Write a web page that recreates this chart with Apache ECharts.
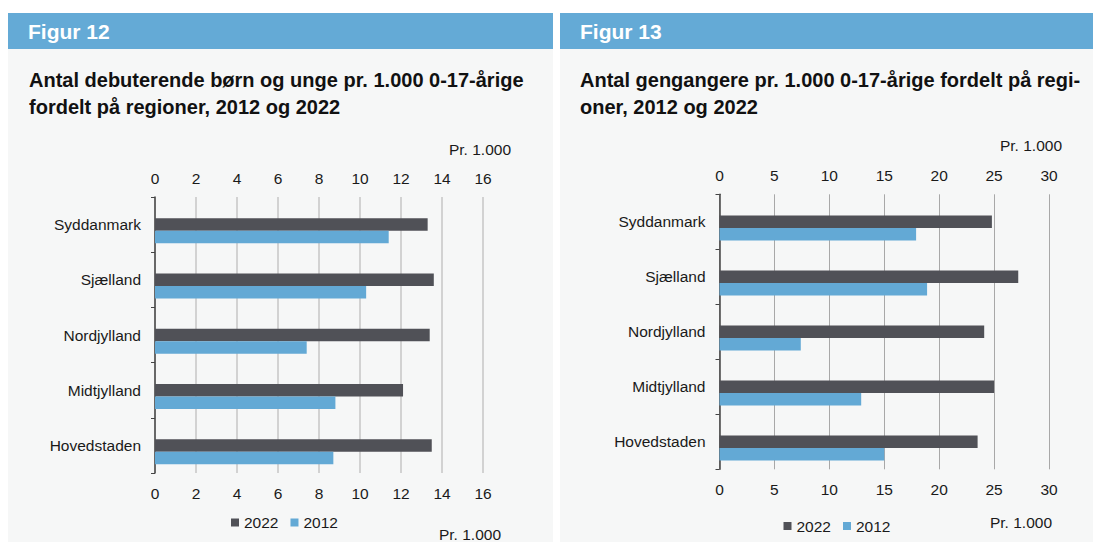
<!DOCTYPE html>
<html>
<head>
<meta charset="utf-8">
<title>Figur 12 og 13</title>
<script src="https://cdn.jsdelivr.net/npm/echarts@6/dist/echarts.min.js"></script>
<style>
  html, body { margin: 0; padding: 0; background: #fff; }
  #chart { width: 1093px; height: 542px; }
</style>
</head>
<body>
<div id="chart"></div>
<script>
// regions, top to bottom
const categories = ['Syddanmark', 'Sjælland', 'Nordjylland', 'Midtjylland', 'Hovedstaden'];

// Figur 12: debuterende pr. 1.000 0-17-årige
const debut2022 = [13.3, 13.6, 13.4, 12.1, 13.5];
const debut2012 = [11.4, 10.3, 7.4, 8.8, 8.7];
const debutTicks = [0, 2, 4, 6, 8, 10, 12, 14, 16];

// Figur 13: gengangere pr. 1.000 0-17-årige
const gentag2022 = [24.8, 27.2, 24.1, 25.0, 23.5];
const gentag2012 = [17.9, 18.9, 7.4, 12.9, 15.0];
const gentagTicks = [0, 5, 10, 15, 20, 25, 30];

const FONT = '"Liberation Sans", Arial, Helvetica, sans-serif';
const DARK = '#505157';
const BLUE = '#63a9d5';
const TXT = '#1a1a1a';

// one panel = grid + bottom/top value axis + category axis
const panels = [
  { grid: { left: 155, top: 197, width: 328, height: 276 }, ticks: debutTicks,
    s2022: debut2022, s2012: debut2012, gridColor: '#c6c6c6', gridWidth: 1.5 },
  { grid: { left: 719.5, top: 194.3, width: 329.5, height: 275 }, ticks: gentagTicks,
    s2022: gentag2022, s2012: gentag2012, gridColor: '#a8a8a8', gridWidth: 1 }
];

const label = { fontSize: 15.5, color: TXT, fontFamily: FONT };

const grids = [], xAxes = [], yAxes = [], series = [];
panels.forEach((p, i) => {
  const min = p.ticks[0], max = p.ticks[p.ticks.length - 1], step = p.ticks[1] - p.ticks[0];
  grids.push(p.grid);
  xAxes.push({
    gridIndex: i, type: 'value', position: 'bottom', min, max, interval: step,
    axisLine: { show: false }, axisTick: { show: false },
    splitLine: { show: true, lineStyle: { color: p.gridColor, width: p.gridWidth } },
    axisLabel: { ...label, margin: 12 }
  });
  xAxes.push({
    gridIndex: i, type: 'value', position: 'top', min, max, interval: step,
    axisLine: { show: false }, axisTick: { show: false }, splitLine: { show: false },
    axisLabel: { ...label, margin: 11 }
  });
  yAxes.push({
    gridIndex: i, type: 'category', data: categories, inverse: true,
    axisLine: { lineStyle: { color: '#444', width: 1.5 } },
    axisTick: { show: true, length: 4, lineStyle: { color: '#444' } },
    axisLabel: { ...label, margin: 14 }
  });
  const common = { type: 'bar', xAxisIndex: i * 2, yAxisIndex: i, barWidth: 12.5, barGap: '0%' };
  // empty slot: the original keeps the 2022 bar on the band centre
  series.push({ ...common, name: 'spacer', data: [], silent: true });
  series.push({ ...common, name: '2022', data: p.s2022, itemStyle: { color: DARK } });
  series.push({ ...common, name: '2012', data: p.s2012, itemStyle: { color: BLUE } });
});

const legendBase = {
  data: ['2022', '2012'], icon: 'rect', itemWidth: 8, itemHeight: 8, itemGap: 12,
  padding: 0, textStyle: { ...label }, selectedMode: false
};

function txt(x, y, text, opts) {
  return {
    type: 'text', x, y,
    style: Object.assign({
      text, fill: TXT, fontSize: 15.5, fontFamily: FONT,
      align: 'left', verticalAlign: 'middle', textAlign: 'left', textVerticalAlign: 'middle'
    }, opts || {})
  };
}

const titleStyle = {
  fontSize: 20, fontWeight: 'bold', lineHeight: 27, fill: '#111',
  verticalAlign: 'top', textVerticalAlign: 'top'
};

const graphics = [
  { type: 'rect', z: -10, shape: { x: 8, y: 13, width: 545, height: 529 }, style: { fill: '#f6f7f7' } },
  { type: 'rect', z: -10, shape: { x: 560, y: 13, width: 533, height: 529 }, style: { fill: '#f6f7f7' } },
  { type: 'rect', z: -9, shape: { x: 8, y: 13, width: 545, height: 36 }, style: { fill: '#64aad6' } },
  { type: 'rect', z: -9, shape: { x: 560, y: 13, width: 533, height: 36 }, style: { fill: '#64aad6' } },
  txt(28, 31.5, 'Figur 12', { fill: '#fff', fontSize: 21, fontWeight: 'bold' }),
  txt(580, 31.5, 'Figur 13', { fill: '#fff', fontSize: 21, fontWeight: 'bold' }),
  txt(29, 66, 'Antal debuterende børn og unge pr. 1.000 0-17-årige\nfordelt på regioner, 2012 og 2022', titleStyle),
  txt(580, 66, 'Antal gengangere pr. 1.000 0-17-årige fordelt på regi-\noner, 2012 og 2022', titleStyle),
  txt(511, 149, 'Pr. 1.000', { align: 'right', textAlign: 'right' }),
  txt(501, 534, 'Pr. 1.000', { align: 'right', textAlign: 'right' }),
  txt(1062, 145, 'Pr. 1.000', { align: 'right', textAlign: 'right' }),
  txt(1052, 522.5, 'Pr. 1.000', { align: 'right', textAlign: 'right' })
];

const chart = echarts.init(document.getElementById('chart'), null, { renderer: 'svg' });
chart.setOption({
  backgroundColor: '#fff',
  animation: false,
  textStyle: { fontFamily: FONT },
  grid: grids,
  xAxis: xAxes,
  yAxis: yAxes,
  series: series,
  legend: [
    { ...legendBase, left: 231, top: 514.5 },
    { ...legendBase, left: 783.5, top: 518 }
  ],
  graphic: graphics
});
</script>
</body>
</html>
